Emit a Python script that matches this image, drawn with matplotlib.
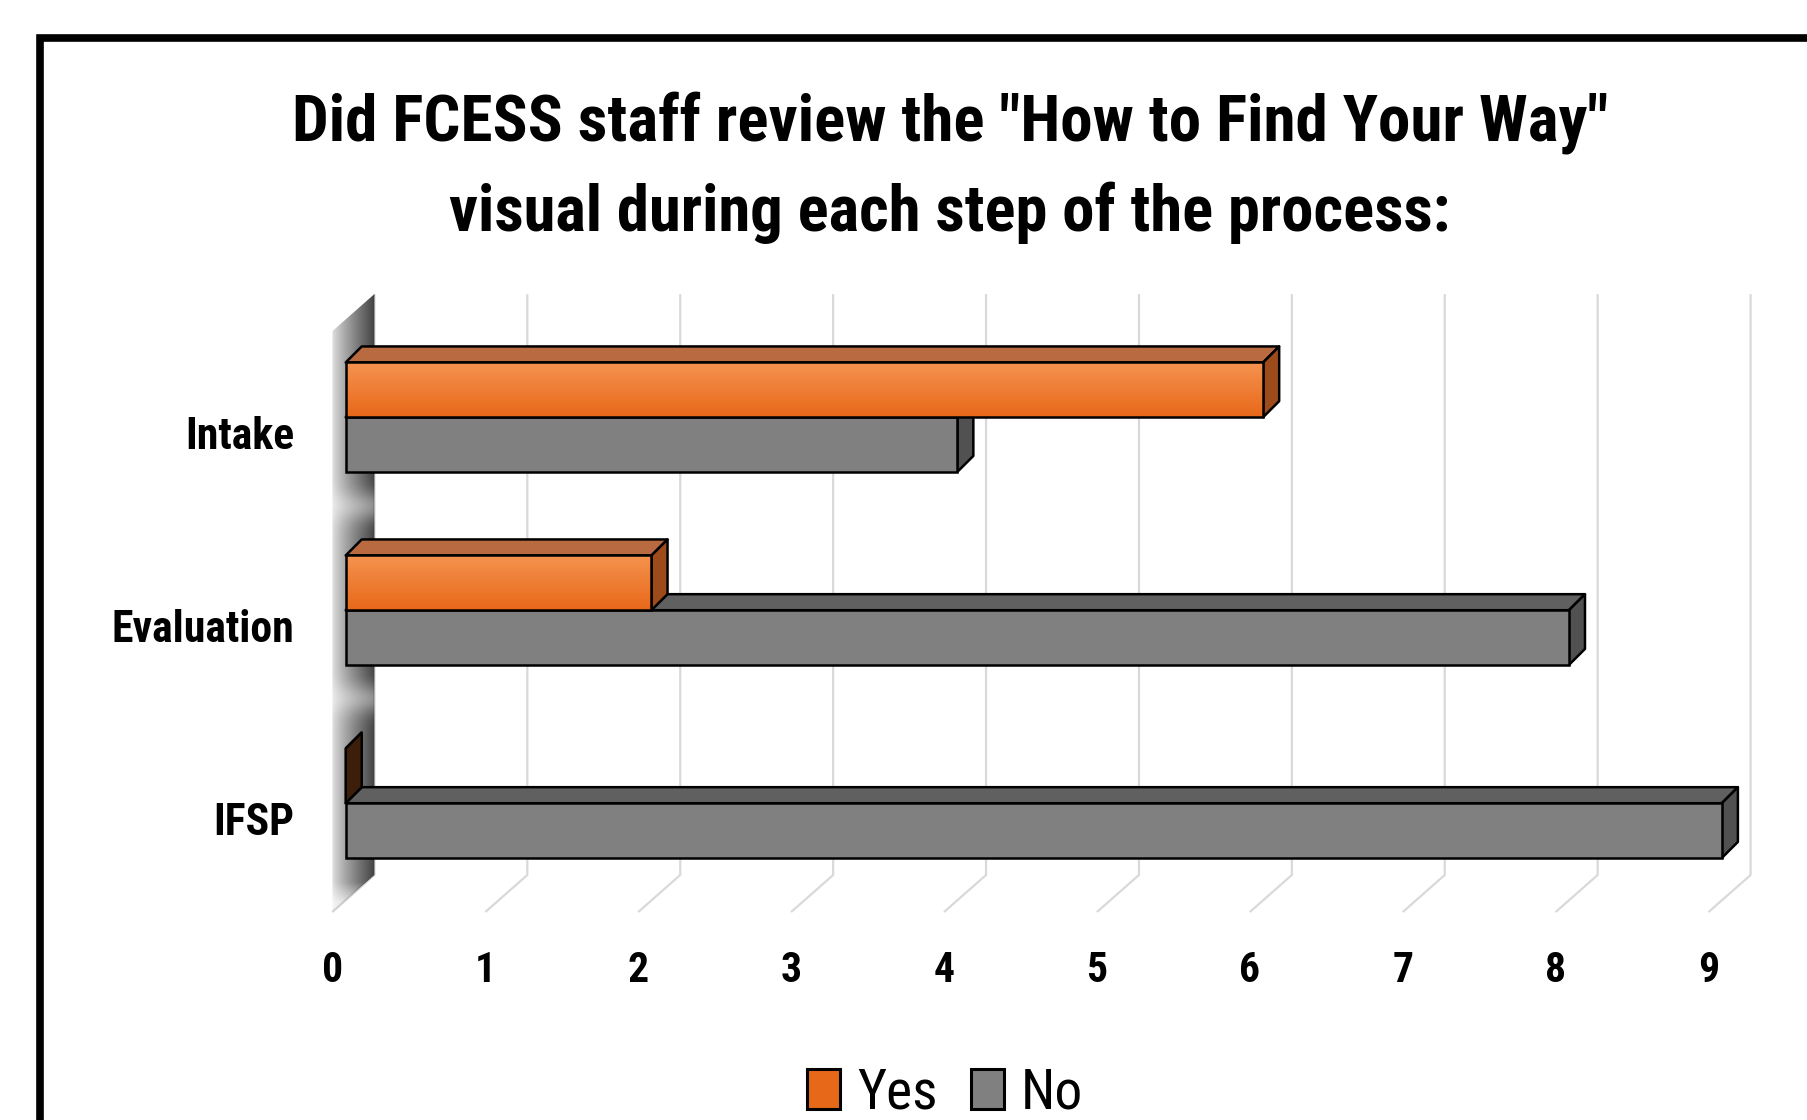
import numpy as np
import matplotlib
matplotlib.use("Agg")
import matplotlib.pyplot as plt
from matplotlib.patches import Polygon, Rectangle, Patch
from matplotlib import font_manager

# ---------------- data ----------------
categories = ["Intake", "Evaluation", "IFSP"]
yes_values = [6, 2, 0]
no_values = [4, 8, 9]
series_names = ["Yes", "No"]
x_ticks = [0, 1, 2, 3, 4, 5, 6, 7, 8, 9]
title_lines = ['Did FCESS staff review the "How to Find Your Way"',
               'visual during each step of the process:']

# ---------------- fonts ----------------
available = {f.name for f in font_manager.fontManager.ttflist}
def pick(*names):
    for n in names:
        if n in available:
            return n
    return "DejaVu Sans"
FONT = pick("Liberation Sans Narrow", "Roboto Condensed", "Lato", "Open Sans", "DejaVu Sans")
plt.rcParams["font.family"] = [FONT, "DejaVu Sans"]

# ---------------- style ----------------
W, H = 1807, 1120
ORANGE_TOP, ORANGE_BOT = "#F5934F", "#E8681A"
ORANGE_TOPFACE, ORANGE_SIDE, ORANGE_ZERO_SIDE = "#BA6A40", "#9E4B1B", "#3C1E0B"
GRAY_FRONT, GRAY_TOPFACE, GRAY_SIDE = "#808080", "#606060", "#515151"
GRID = "#D9D9D9"
EDGE_LW = 1.8

BAR_H = 0.2836          # bar thickness (category units)
DX, DY = 0.105, 0.083   # bar depth offsets
WALL_DX = 0.188         # back wall offset (value units)
WALL_TOP, WALL_BOT = -0.638, 2.372
FLOOR_DX, FLOOR_DY = -0.275, 0.192

fig = plt.figure(figsize=(W / 100, H / 100), dpi=100)
ax = fig.add_axes([299.8 / W, 1 - 919 / H, (1783 - 299.8) / W, (919 - 243.5) / H])
ax.set_facecolor("none")

z = 1
# gridlines on back wall + floor
for v in x_ticks:
    xb = v + WALL_DX
    ax.plot([xb, xb, xb + FLOOR_DX], [WALL_TOP, WALL_BOT, WALL_BOT + FLOOR_DY],
            color=GRID, lw=1.6, zorder=z, solid_capstyle="butt", clip_on=False)

# left wall shading
z += 1
x0w, x1w = WALL_DX + FLOOR_DX, WALL_DX
c0w, c1w = WALL_TOP, WALL_BOT + FLOOR_DY
nx, ny = 60, 400
t = np.linspace(0, 1, nx)
cs = np.linspace(c0w, c1w, ny)
alpha_x = 0.15 + 0.8 * t ** 0.85
alpha_x[-2:] = 0.97
g = np.ones(ny)
for i in range(len(categories) - 1):
    gc = i + 0.5 - DY / 2
    g -= 0.4 * np.exp(-((cs - gc) / 0.08) ** 2)
g *= np.clip((c1w - cs) / 0.15, 0.3, 1.0)
alpha = np.clip(np.outer(g, alpha_x), 0, 1)
img = np.zeros((ny, nx, 4))
img[..., 0] = img[..., 1] = img[..., 2] = 0.22
img[..., 3] = alpha
wall_poly = Polygon([(x1w, WALL_TOP), (x1w, WALL_BOT), (x0w, WALL_BOT + FLOOR_DY),
                     (x0w, WALL_TOP + FLOOR_DY)], closed=True, transform=ax.transData,
                    fill=False, lw=0)
ax.add_patch(wall_poly)
im = ax.imshow(img, extent=(x0w, x1w, c1w, c0w), origin="upper", aspect="auto",
               zorder=z, interpolation="bilinear")
im.set_clip_path(wall_poly)

# orange vertical gradient
grad = np.zeros((50, 2, 4))
ct = np.array(matplotlib.colors.to_rgba(ORANGE_TOP))
cb = np.array(matplotlib.colors.to_rgba(ORANGE_BOT))
for k in range(50):
    grad[k, :, :] = ct + (cb - ct) * (k / 49)

def draw_bar(v, c0, front, topc, sidec, gradient, z):
    c1 = c0 + BAR_H
    top = Polygon([(0, c0), (v, c0), (v + DX, c0 - DY), (DX, c0 - DY)], closed=True,
                  fc=topc, ec="black", lw=EDGE_LW, zorder=z, clip_on=False, joinstyle="round")
    side = Polygon([(v, c0), (v + DX, c0 - DY), (v + DX, c1 - DY), (v, c1)], closed=True,
                   fc=sidec, ec="black", lw=EDGE_LW, zorder=z + 0.1, clip_on=False,
                   joinstyle="round")
    ax.add_patch(top)
    ax.add_patch(side)
    if v > 0:
        if gradient:
            ax.imshow(grad, extent=(0, v, c1, c0), origin="upper", aspect="auto",
                      zorder=z + 0.2, interpolation="bilinear", clip_on=False)
            ax.add_patch(Rectangle((0, c0), v, BAR_H, fill=False, ec="black",
                                   lw=EDGE_LW, zorder=z + 0.3, clip_on=False))
        else:
            ax.add_patch(Rectangle((0, c0), v, BAR_H, fc=front, ec="black",
                                   lw=EDGE_LW, zorder=z + 0.3, clip_on=False))

z = 10
for i, cat in enumerate(categories):
    # "No" bar (lower) first, then "Yes" bar (upper, in front of No's top face)
    draw_bar(no_values[i], i, GRAY_FRONT, GRAY_TOPFACE, GRAY_SIDE, False, z)
    z += 1
    side_c = ORANGE_SIDE if yes_values[i] > 0 else ORANGE_ZERO_SIDE
    draw_bar(yes_values[i], i - BAR_H, ORANGE_BOT, ORANGE_TOPFACE, side_c, True, z)
    z += 1

ax.set_xlim(-0.3, 9.4)
ax.set_ylim(2.6, -0.9)

# axis ticks (labels on front floor edge)
ax.set_xticks([v + WALL_DX + FLOOR_DX for v in x_ticks], labels=[str(v) for v in x_ticks])
ax.set_yticks([i + 0.077 for i in range(len(categories))], labels=categories)
ax.tick_params(axis="x", length=0, pad=22, labelsize=30)
ax.tick_params(axis="y", length=0, pad=4, labelsize=31.5)
for lab in ax.get_xticklabels() + ax.get_yticklabels():
    lab.set_fontweight("bold")
for s in ax.spines.values():
    s.set_visible(False)

# title
fig.text(0.5258, 1 - 140.5 / H, title_lines[0], ha="center", va="baseline",
         fontsize=46.8, fontweight="bold")
fig.text(0.5258, 1 - 231 / H, title_lines[1], ha="center", va="baseline",
         fontsize=46.5, fontweight="bold")

# legend
handles = [Patch(fc=ORANGE_BOT, ec="black", lw=2.2, label=series_names[0]),
           Patch(fc=GRAY_FRONT, ec="black", lw=2.2, label=series_names[1])]
fig.legend(handles=handles, loc="center", bbox_to_anchor=(945 / W, 1 - 1093 / H),
           ncol=2, frameon=False, fontsize=40, handlelength=0.6, handleheight=0.72,
           handletextpad=0.3, columnspacing=0.6, borderaxespad=0, borderpad=0)

# outer frame (extends beyond the right and bottom edges)
fig.add_artist(Rectangle((39.5 / W, -0.5), 2.0, (1 - 38 / H) + 0.5,
                         transform=fig.transFigure, fill=False, ec="black", lw=5.5))

fig.savefig("out.png", dpi=100)
